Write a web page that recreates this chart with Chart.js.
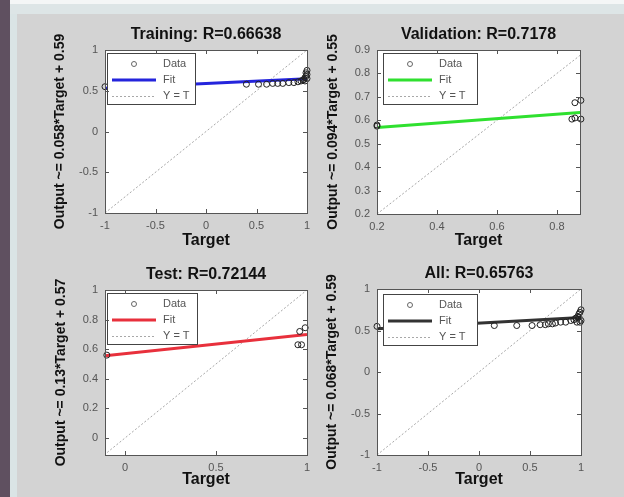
<!DOCTYPE html>
<html><head><meta charset="utf-8">
<script src="https://cdn.jsdelivr.net/npm/chart.js@4.4.0/dist/chart.umd.min.js"></script>
<style>
html,body{margin:0;padding:0;}
body{width:624px;height:497px;background:#d3d3d3;position:relative;overflow:hidden;font-family:"Liberation Sans",Arial,sans-serif;}
#lstrip{position:absolute;left:0;top:0;width:10px;height:497px;background:#5f5060;}
#lstrip2{position:absolute;left:10px;top:0;width:7px;height:497px;background:#dae4e5;}
#tstrip{position:absolute;left:10px;top:0;width:614px;height:14px;background:linear-gradient(#f4f6f6 0,#f4f6f6 4px,#dde5e6 4px);}
canvas{position:absolute;left:0;top:0;}
</style></head>
<body>
<div id="lstrip"></div><div id="lstrip2"></div><div id="tstrip"></div>
<canvas id="c1" width="624" height="497"></canvas>
<canvas id="c2" width="624" height="497"></canvas>
<canvas id="c3" width="624" height="497"></canvas>
<canvas id="c4" width="624" height="497"></canvas>
<script>
// ---------- data ----------
const trainTarget = [-1, 0.40, 0.52, 0.60, 0.66, 0.71, 0.76, 0.82, 0.87, 0.91, 0.94, 0.96, 0.97, 0.98, 0.99, 1.00, 0.99, 1.00, 0.98, 1.00];
const trainOutput = [0.55, 0.58, 0.58, 0.58, 0.59, 0.59, 0.59, 0.60, 0.60, 0.61, 0.62, 0.63, 0.64, 0.66, 0.68, 0.70, 0.72, 0.75, 0.62, 0.65];
const trainFitX = [-1, 1];
const trainFitY = [0.532, 0.648];
const trainXTicks = [-1, -0.5, 0, 0.5, 1];
const trainYTicks = [-1, -0.5, 0, 0.5, 1];

const valTarget = [0.20, 0.20, 0.85, 0.86, 0.88, 0.86, 0.88];
const valOutput = [0.575, 0.58, 0.605, 0.61, 0.605, 0.675, 0.685];
const valFitX = [0.2, 0.88];
const valFitY = [0.569, 0.633];
const valXTicks = [0.2, 0.4, 0.6, 0.8];
const valYTicks = [0.2, 0.3, 0.4, 0.5, 0.6, 0.7, 0.8, 0.9];

const testTarget = [-0.10, 0.95, 0.97, 0.96, 0.99];
const testOutput = [0.56, 0.63, 0.63, 0.72, 0.745];
const testFitX = [-0.11, 1];
const testFitY = [0.556, 0.70];
const testXTicks = [0, 0.5, 1];
const testYTicks = [0, 0.2, 0.4, 0.6, 0.8, 1];

const allTarget = [-1, 0.15, 0.37, 0.52, 0.60, 0.65, 0.68, 0.72, 0.75, 0.80, 0.85, 0.90, 0.93, 0.95, 0.97, 0.98, 0.99, 1.00, 1.00, 0.99, 0.96, 0.98];
const allOutput = [0.55, 0.56, 0.56, 0.56, 0.57, 0.57, 0.58, 0.58, 0.59, 0.60, 0.60, 0.62, 0.63, 0.65, 0.67, 0.70, 0.72, 0.75, 0.62, 0.60, 0.60, 0.66];
const allFitX = [-1, 1];
const allFitY = [0.522, 0.658];
const allXTicks = [-1, -0.5, 0, 0.5, 1];
const allYTicks = [-1, -0.5, 0, 0.5, 1];

// ---------- rendering ----------
const F = '"Liberation Sans", Arial, Helvetica, sans-serif';
const W = 624, H = 497;
const fmt = v => String(Math.round(v * 100) / 100);

const framePlugin = {
  id: 'frame',
  beforeDraw(chart) {
    const a = chart.chartArea, ctx = chart.ctx;
    ctx.save(); ctx.fillStyle = '#ffffff';
    ctx.fillRect(a.left, a.top, a.right - a.left, a.bottom - a.top);
    ctx.restore();
  },
  afterDraw(chart) {
    const a = chart.chartArea, ctx = chart.ctx;
    ctx.save();
    ctx.strokeStyle = '#555'; ctx.lineWidth = 1;
    ctx.strokeRect(Math.round(a.left) + 0.5, Math.round(a.top) + 0.5, Math.round(a.right - a.left), Math.round(a.bottom - a.top));
    const xs = chart.scales.x, ys = chart.scales.y;
    ctx.beginPath();
    xs.ticks.forEach(t => {
      const px = Math.round(xs.getPixelForValue(t.value)) + 0.5;
      ctx.moveTo(px, a.bottom); ctx.lineTo(px, a.bottom - 4);
      ctx.moveTo(px, a.top); ctx.lineTo(px, a.top + 4);
    });
    ys.ticks.forEach(t => {
      const py = Math.round(ys.getPixelForValue(t.value)) + 0.5;
      ctx.moveTo(a.left, py); ctx.lineTo(a.left + 4, py);
      ctx.moveTo(a.right, py); ctx.lineTo(a.right - 4, py);
    });
    ctx.stroke();
    ctx.restore();
  }
};

const legendPlugin = {
  id: 'regLegend',
  afterDatasetsDraw(chart, args, opts) {
    const ctx = chart.ctx, a = chart.chartArea;
    const x = Math.round(a.left + opts.dx), y = Math.round(a.top + opts.dy), w = opts.w, h = 51;
    ctx.save();
    ctx.fillStyle = '#fff'; ctx.fillRect(x, y, w, h);
    ctx.strokeStyle = '#444'; ctx.lineWidth = 1; ctx.strokeRect(x + 0.5, y + 0.5, w, h);
    const rows = [y + 11, y + 27, y + 43];
    ctx.strokeStyle = '#666'; ctx.lineWidth = 1;
    ctx.beginPath(); ctx.arc(x + 27, rows[0], 2.5, 0, Math.PI * 2); ctx.stroke();
    ctx.strokeStyle = opts.color; ctx.lineWidth = 3;
    ctx.beginPath(); ctx.moveTo(x + 5, rows[1]); ctx.lineTo(x + 49, rows[1]); ctx.stroke();
    ctx.strokeStyle = '#a8a8a8'; ctx.lineWidth = 1; ctx.setLineDash([2, 2]);
    ctx.beginPath(); ctx.moveTo(x + 5, rows[2] + 0.5); ctx.lineTo(x + 49, rows[2] + 0.5); ctx.stroke();
    ctx.setLineDash([]);
    ctx.fillStyle = '#555'; ctx.font = '11px ' + F; ctx.textBaseline = 'middle'; ctx.textAlign = 'left';
    ctx.fillText('Data', x + 56, rows[0]);
    ctx.fillText('Fit', x + 56, rows[1]);
    ctx.fillText('Y = T', x + 56, rows[2]);
    ctx.restore();
  }
};

function regChart(id, o) {
  const A = o.area;
  const layoutTop = o.titleY - 8;
  const titlePadB = A.t - layoutTop - 16;
  const yScaleLeft = o.yTitleX - 7;
  const yScaleWidth = A.l - yScaleLeft;
  const xScaleBottom = o.xTitleY + 8;
  const xScaleHeight = xScaleBottom - A.b;
  const lo = Math.min(o.xMin, o.yMin), hi = Math.max(o.xMax, o.yMax);
  new Chart(document.getElementById(id), {
    type: 'scatter',
    data: {
      datasets: [
        { label: 'Data', data: o.tx.map((x, i) => ({ x, y: o.ty[i] })), showLine: false,
          pointStyle: 'circle', pointRadius: 3, borderColor: '#222', backgroundColor: 'rgba(0,0,0,0)',
          borderWidth: 1, order: 1, clip: false },
        { label: 'Fit', data: o.fx.map((x, i) => ({ x, y: o.fy[i] })), showLine: true,
          borderColor: o.color, borderWidth: 3, pointRadius: 0, order: 2 },
        { label: 'Y = T', data: [{ x: lo, y: lo }, { x: hi, y: hi }], showLine: true,
          borderColor: '#a8a8a8', borderDash: [2, 2], borderWidth: 1, pointRadius: 0, order: 3 }
      ]
    },
    options: {
      responsive: false, animation: false, events: [],
      layout: { padding: { left: yScaleLeft, top: layoutTop, right: W - A.r, bottom: H - xScaleBottom } },
      plugins: {
        legend: { display: false },
        tooltip: { enabled: false },
        title: { display: true, fullSize: false, text: o.title, color: '#111',
          font: { size: 16, weight: 'bold', family: F, lineHeight: '16px' },
          padding: { top: 0, bottom: titlePadB } },
        regLegend: { dx: o.legDx, dy: o.legDy, w: o.legW, color: o.color }
      },
      scales: {
        x: {
          type: 'linear', position: 'bottom', min: o.xMin, max: o.xMax,
          afterBuildTicks: s => { s.ticks = o.xTicks.map(v => ({ value: v })); },
          afterFit: s => { s.height = xScaleHeight; },
          grid: { display: false, drawTicks: false }, border: { display: false },
          ticks: { padding: 6, autoSkip: false, maxRotation: 0, color: '#555', font: { size: 11, family: F }, callback: fmt },
          title: { display: true, text: 'Target', color: '#111', padding: 0,
            font: { size: 16, weight: 'bold', family: F, lineHeight: '16px' } }
        },
        y: {
          type: 'linear', position: 'left', min: o.yMin, max: o.yMax,
          afterBuildTicks: s => { s.ticks = o.yTicks.map(v => ({ value: v })); },
          afterFit: s => { s.width = yScaleWidth; },
          grid: { display: false, drawTicks: false }, border: { display: false },
          ticks: { padding: 7, autoSkip: false, color: '#555', font: { size: 11, family: F }, callback: fmt },
          title: { display: true, text: o.yTitle, color: '#111', padding: 0,
            font: { size: 14, weight: 'bold', family: F, lineHeight: '14px' } }
        }
      }
    },
    plugins: [framePlugin, legendPlugin]
  });
}

regChart('c1', {
  area: { l: 105, t: 50, r: 307, b: 213 }, titleY: 35, yTitleX: 60, xTitleY: 241,
  title: 'Training: R=0.66638', yTitle: 'Output ~= 0.058*Target + 0.59', color: '#2424dc',
  xMin: -1, xMax: 1, yMin: -1, yMax: 1, xTicks: trainXTicks, yTicks: trainYTicks,
  tx: trainTarget, ty: trainOutput, fx: trainFitX, fy: trainFitY, legDx: 2, legDy: 3, legW: 88
});
regChart('c2', {
  area: { l: 377, t: 50, r: 580, b: 214 }, titleY: 35, yTitleX: 333, xTitleY: 241,
  title: 'Validation: R=0.7178', yTitle: 'Output ~= 0.094*Target + 0.55', color: '#2fe02f',
  xMin: 0.2, xMax: 0.877, yMin: 0.2, yMax: 0.9, xTicks: valXTicks, yTicks: valYTicks,
  tx: valTarget, ty: valOutput, fx: valFitX, fy: valFitY, legDx: 6, legDy: 3, legW: 94
});
regChart('c3', {
  area: { l: 105, t: 290, r: 307, b: 455 }, titleY: 275, yTitleX: 61, xTitleY: 480,
  title: 'Test: R=0.72144', yTitle: 'Output ~= 0.13*Target + 0.57', color: '#e8303c',
  xMin: -0.11, xMax: 1, yMin: -0.115, yMax: 1, xTicks: testXTicks, yTicks: testYTicks,
  tx: testTarget, ty: testOutput, fx: testFitX, fy: testFitY, legDx: 2, legDy: 3, legW: 90
});
regChart('c4', {
  area: { l: 377, t: 289, r: 581, b: 455 }, titleY: 274, yTitleX: 332, xTitleY: 480,
  title: 'All: R=0.65763', yTitle: 'Output ~= 0.068*Target + 0.59', color: '#333333',
  xMin: -1, xMax: 1, yMin: -1, yMax: 1, xTicks: allXTicks, yTicks: allYTicks,
  tx: allTarget, ty: allOutput, fx: allFitX, fy: allFitY, legDx: 6, legDy: 5, legW: 94
});
</script>
</body></html>
